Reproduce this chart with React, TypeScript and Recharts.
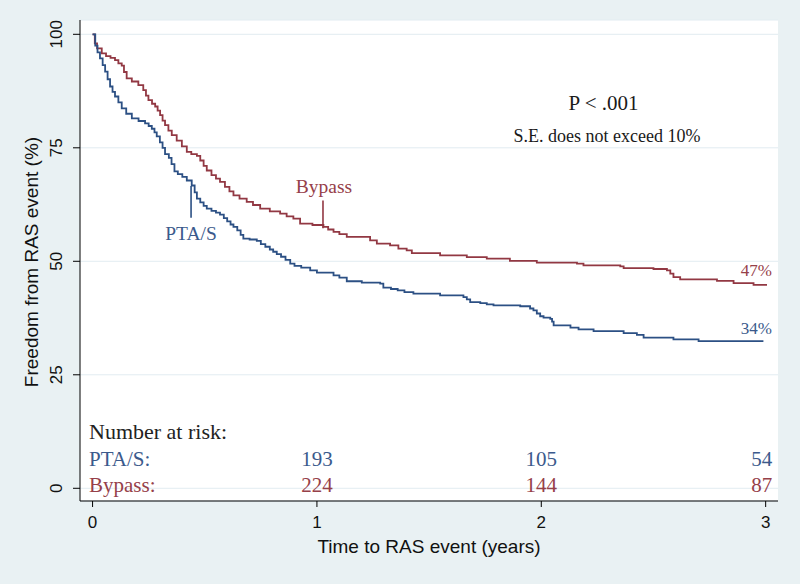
import React from 'react';
import { LineChart, Line, XAxis, YAxis, CartesianGrid, ReferenceLine, ReferenceDot } from 'recharts';

// PTA/S Kaplan-Meier estimate (time in years, freedom from RAS event %)
const ptaTimes = [0, 0.012, 0.022, 0.033, 0.045, 0.056, 0.067, 0.078, 0.089, 0.1, 0.115, 0.13, 0.15, 0.175, 0.205, 0.234, 0.25, 0.264, 0.276, 0.286, 0.3, 0.312, 0.323, 0.34, 0.352, 0.365, 0.38, 0.4, 0.42, 0.442, 0.455, 0.465, 0.48, 0.495, 0.509, 0.53, 0.55, 0.568, 0.585, 0.6, 0.615, 0.628, 0.645, 0.66, 0.672, 0.7, 0.732, 0.75, 0.77, 0.79, 0.805, 0.821, 0.84, 0.86, 0.881, 0.9, 0.93, 0.97, 1.0, 1.074, 1.1, 1.133, 1.2, 1.282, 1.296, 1.33, 1.36, 1.39, 1.43, 1.549, 1.653, 1.668, 1.683, 1.728, 1.757, 1.787, 1.906, 1.95, 1.965, 1.98, 1.995, 2.01, 2.04, 2.048, 2.055, 2.13, 2.166, 2.233, 2.367, 2.426, 2.456, 2.589, 2.701, 2.99];
const ptaSurv = [100, 97.5, 96.0, 94.7, 93.2, 91.8, 90.1, 88.5, 87.3, 86.3, 85.0, 83.7, 82.5, 81.5, 80.9, 80.4, 79.8, 79.2, 78.4, 77.5, 76.2, 75.0, 73.6, 72.8, 71.4, 69.8, 69.2, 68.6, 67.8, 66.7, 65.2, 63.8, 63.0, 62.2, 61.6, 61.1, 60.7, 60.3, 59.5, 58.8, 58.1, 57.6, 56.8, 55.8, 55.0, 54.8, 54.5, 53.8, 53.2, 52.6, 52.1, 51.6, 51.0, 50.3, 49.5, 49.0, 48.6, 48.0, 47.5, 46.9, 46.4, 45.6, 45.3, 45.1, 44.2, 43.9, 43.6, 43.2, 42.9, 42.5, 42.1, 41.6, 41.0, 40.8, 40.5, 40.3, 40.1, 39.6, 39.2, 38.5, 37.9, 37.6, 37.3, 36.7, 35.9, 35.4, 35.0, 34.6, 34.2, 33.8, 33.2, 32.8, 32.4, 32.4];

// Bypass Kaplan-Meier estimate
const bypTimes = [0, 0.01, 0.02, 0.041, 0.06, 0.08, 0.1, 0.115, 0.13, 0.14, 0.152, 0.175, 0.204, 0.226, 0.238, 0.249, 0.265, 0.279, 0.29, 0.301, 0.312, 0.323, 0.338, 0.353, 0.375, 0.398, 0.42, 0.44, 0.465, 0.48, 0.495, 0.509, 0.53, 0.55, 0.568, 0.59, 0.61, 0.628, 0.655, 0.687, 0.715, 0.747, 0.79, 0.836, 0.865, 0.895, 0.925, 0.98, 1.029, 1.05, 1.074, 1.1, 1.133, 1.237, 1.267, 1.326, 1.363, 1.4, 1.423, 1.549, 1.668, 1.757, 1.86, 1.98, 2.159, 2.188, 2.352, 2.367, 2.5, 2.56, 2.575, 2.589, 2.619, 2.783, 2.857, 2.946, 3.006];
const bypSurv = [100, 98.0, 96.9, 95.8, 95.2, 94.8, 94.3, 93.6, 93.1, 91.7, 90.3, 89.6, 88.8, 87.7, 86.5, 85.5, 84.7, 84.1, 83.2, 82.2, 81.0, 80.0, 78.8, 77.8, 76.6, 75.3, 74.1, 73.6, 73.2, 72.2, 71.0, 70.0, 69.0, 68.2, 67.5, 66.4, 65.4, 64.5, 63.8, 63.1, 62.4, 61.6, 61.0, 60.5, 59.9, 59.4, 58.3, 58.0, 57.6, 57.0, 56.5, 56.0, 55.4, 54.6, 53.9, 53.5, 52.8, 52.4, 51.8, 51.3, 50.9, 50.6, 50.1, 49.7, 49.5, 49.1, 48.9, 48.5, 48.3, 48.0, 47.3, 46.5, 46.0, 45.7, 45.2, 44.8, 44.8];

const xTicks = [0, 1, 2, 3];
const yTicks = [0, 25, 50, 75, 100];

const riskTimes = [1, 2, 3];
const ptaRisk = [193, 105, 54];
const bypassRisk = [224, 144, 87];

const groupNames = ['PTA/S', 'Bypass'];
const finalLabels = ['34%', '47%'];

const BLUE = '#2c5084';
const RED = '#923843';
const BLUE_TXT = '#3b5a8c';
const RED_TXT = '#964049';
const SANS = '"Liberation Sans", Arial, sans-serif';
const SERIF = '"Liberation Serif", "Times New Roman", serif';

const ptaData = ptaTimes.map((t, i) => ({ t, v: ptaSurv[i] }));
const bypData = bypTimes.map((t, i) => ({ t, v: bypSurv[i] }));

const XTick = (props: any) => {
  const { x, payload } = props;
  return (
    <text x={x} y={528} textAnchor="middle" fontFamily={SANS} fontSize={17} fill="#111">
      {payload.value}
    </text>
  );
};

const YTick = (props: any) => {
  const { y, payload } = props;
  return (
    <text transform={`translate(62, ${y}) rotate(-90)`} textAnchor="middle" fontFamily={SANS} fontSize={17} fill="#111">
      {payload.value}
    </text>
  );
};

const riskShape = (value: number, color: string, dx: number) => (p: any) => (
  <text x={p.cx + dx} y={p.cy} textAnchor="middle" fontFamily={SERIF} fontSize={21} fill={color}>
    {value}
  </text>
);

export default function App() {
  return (
    <div style={{ position: 'absolute', left: 0, top: 0, width: 800, height: 584, background: '#e9f1f3' }}>
      <LineChart width={800} height={584} margin={{ top: 20, right: 22, bottom: 0, left: 0 }}>
        <CartesianGrid vertical={false} stroke="#e2ecf1" strokeWidth={1} fill="#ffffff" />
        <XAxis
          type="number"
          dataKey="t"
          domain={[-0.056, 3.055]}
          ticks={xTicks}
          allowDataOverflow
          height={83}
          tickSize={6}
          tickLine={{ stroke: '#000' }}
          axisLine={{ stroke: '#000' }}
          tick={<XTick />}
          allowDuplicatedCategory={false}
        />
        <YAxis
          type="number"
          domain={[-2.8, 103.15]}
          ticks={yTicks}
          allowDataOverflow
          width={80}
          tickSize={7}
          tickLine={{ stroke: '#000' }}
          axisLine={{ stroke: '#000' }}
          tick={<YTick />}
        />
        <Line data={bypData} dataKey="v" type="stepAfter" stroke={RED} strokeWidth={1.8} dot={false} isAnimationActive={false} />
        <Line data={ptaData} dataKey="v" type="stepAfter" stroke={BLUE} strokeWidth={1.8} dot={false} isAnimationActive={false} />
        <ReferenceLine segment={[{ x: 0.439, y: 66.6 }, { x: 0.439, y: 59.6 }]} stroke={BLUE} strokeWidth={1.6} />
        <ReferenceLine segment={[{ x: 1.027, y: 57.3 }, { x: 1.027, y: 63.4 }]} stroke={RED} strokeWidth={1.6} />
        {riskTimes.map((t, i) => (
          <ReferenceDot key={'p' + t} x={t} y={5.0} r={0} shape={riskShape(ptaRisk[i], BLUE_TXT, i === 2 ? -4 : 0)} />
        ))}
        {riskTimes.map((t, i) => (
          <ReferenceDot key={'b' + t} x={t} y={-0.75} r={0} shape={riskShape(bypassRisk[i], RED_TXT, i === 2 ? -4 : 0)} />
        ))}
        <text x={603.5} y={110} textAnchor="middle" fontFamily={SERIF} fontSize={21} fill="#1a1a1a">P &lt; .001</text>
        <text x={607} y={141.7} textAnchor="middle" fontFamily={SERIF} fontSize={18} fill="#1a1a1a">S.E. does not exceed 10%</text>
        <text x={324} y={192.7} textAnchor="middle" fontFamily={SERIF} fontSize={19.5} fill={RED_TXT}>{groupNames[1]}</text>
        <text x={191} y={240} textAnchor="middle" fontFamily={SERIF} fontSize={19.5} fill={BLUE_TXT}>{groupNames[0]}</text>
        <text x={772} y={276} textAnchor="end" fontFamily={SERIF} fontSize={17} fill={RED_TXT}>{finalLabels[1]}</text>
        <text x={772} y={334} textAnchor="end" fontFamily={SERIF} fontSize={17} fill={BLUE_TXT}>{finalLabels[0]}</text>
        <text x={89} y={439} fontFamily={SERIF} fontSize={22} fill="#222">Number at risk:</text>
        <text x={89} y={465.7} fontFamily={SERIF} fontSize={21} fill={BLUE_TXT}>{groupNames[0]}:</text>
        <text x={89} y={491.7} fontFamily={SERIF} fontSize={21} fill={RED_TXT}>{groupNames[1]}:</text>
        <text x={429} y={553} textAnchor="middle" fontFamily={SANS} fontSize={19} fill="#111">Time to RAS event (years)</text>
        <text transform="translate(38, 262) rotate(-90)" textAnchor="middle" fontFamily={SANS} fontSize={19} fill="#111">Freedom from RAS event (%)</text>
      </LineChart>
    </div>
  );
}
